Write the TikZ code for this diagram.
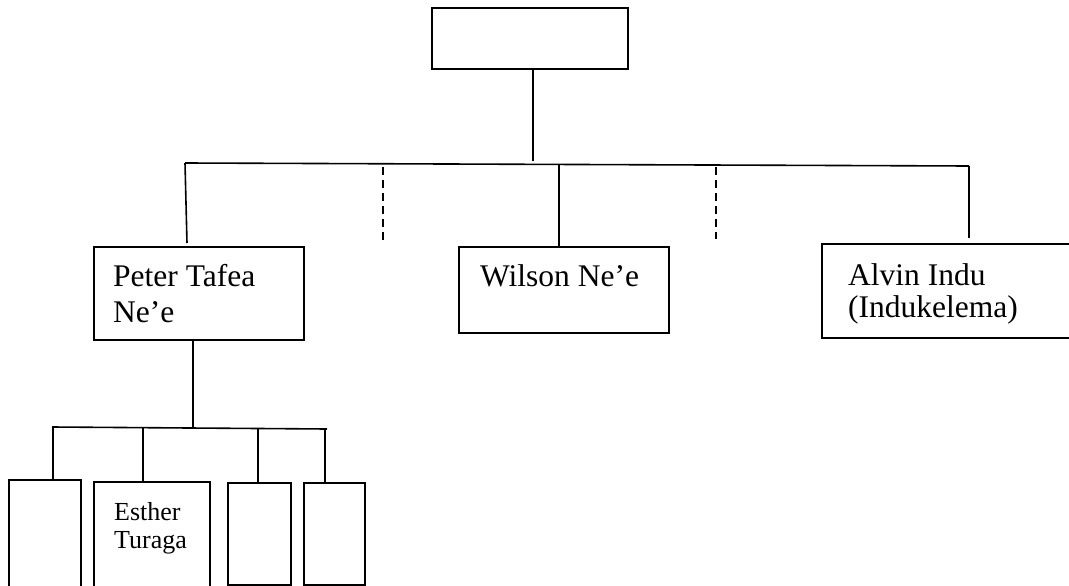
\documentclass[tikz,border=0pt]{standalone}
\usepackage{fontspec}
\setmainfont{Liberation Serif}
\usepackage{tikz}
\tikzstyle{kinbox} = [draw, line width=1.6pt, inner sep=0pt, anchor=north west]
\tikzstyle{link} = [line width=1.6pt]
\tikzstyle{dots} = [line width=1.6pt, dash pattern=on 8pt off 5pt]
\tikzstyle{kinname} = [anchor=north west, align=left, inner sep=0pt]

\begin{document}
\begin{tikzpicture}[x=1pt,y=-1pt]
    \clip (0,0) rectangle (1069,586);
    % boxes
    \node[kinbox, minimum width=196pt, minimum height=61pt] (head) at (431,7) {};
    \node[kinbox, minimum width=210pt, minimum height=93pt] (peter) at (93,246) {};
    \node[kinbox, minimum width=210pt, minimum height=86pt] (wilson) at (458,246) {};
    \node[kinbox, minimum width=260pt, minimum height=94pt] (alvin) at (821,243) {};
    \node[kinbox, minimum width=72pt, minimum height=115pt] (kidA) at (8,479) {};
    \node[kinbox, minimum width=116pt, minimum height=113pt] (esther) at (93,481) {};
    \node[kinbox, minimum width=63pt, minimum height=102pt] (kidC) at (227,482) {};
    \node[kinbox, minimum width=61pt, minimum height=102pt] (kidD) at (303,482) {};
    % names
    \node[kinname, font=\fontsize{31.5}{36}\selectfont] (peterT) at (113,264) {Peter Tafea\\Ne’e};
    \node[kinname, font=\fontsize{31.5}{36}\selectfont] (wilsonT) at (480,264) {Wilson Ne’e};
    \node[kinname, font=\fontsize{31.5}{32}\selectfont] (alvinT) at (848,263) {Alvin Indu\\(Indukelema)};
    \node[kinname, font=\fontsize{26}{28}\selectfont] (estherT) at (114,502) {Esther\\Turaga};
    % first bar
    \coordinate (barL) at (185,163);
    \coordinate (barR) at (969,166);
    \coordinate (drop) at (533,161);
    \coordinate (barW) at (559,164.5);
    \coordinate (dashL) at (383,167);
    \coordinate (dashR) at (716,167);
    \draw[link] (barL) -- (barR);
    \draw[link] (head.south -| drop) -- (drop);
    \draw[link] (barL) -- (187,243);
    \draw[link] (barW) -- (barW |- wilson.north);
    \draw[link] (barR) -- (969,238);
    \draw[dots] (dashL) -- (383,240);
    \draw[dots] (dashR) -- (716,239);
    % second bar
    \coordinate (subL) at (52,427);
    \coordinate (subR) at (327,429);
    \coordinate (peterDrop) at (193,428);
    \coordinate (tickA) at (53,427);
    \coordinate (tickB) at (143,428);
    \coordinate (tickC) at (258,428);
    \coordinate (tickD) at (325,429);
    \draw[link] (subL) -- (subR);
    \draw[link] (peter.south -| peterDrop) -- (peterDrop);
    \draw[link] (tickA) -- (tickA |- kidA.north);
    \draw[link] (tickB) -- (tickB |- esther.north);
    \draw[link] (tickC) -- (tickC |- kidC.north);
    \draw[link] (tickD) -- (tickD |- kidD.north);
\end{tikzpicture}
\end{document}
